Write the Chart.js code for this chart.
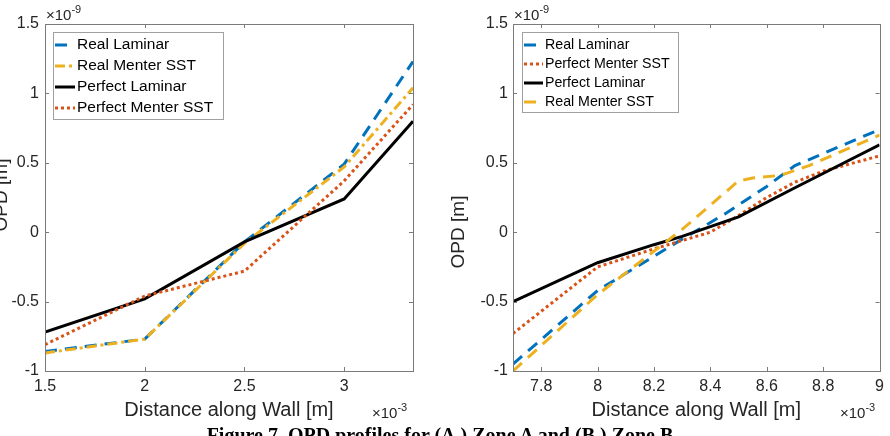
<!DOCTYPE html>
<html>
<head>
<meta charset="utf-8">
<script src="https://cdn.jsdelivr.net/npm/chart.js@4.4.1/dist/chart.umd.min.js"></script>
<style>
  html, body { margin: 0; padding: 0; background: #fff; overflow: hidden; }
  body { width: 890px; height: 436px; position: relative; }
  .panel { position: absolute; top: 0; width: 445px; height: 436px; }
  #caption {
    position: absolute; left: 0; width: 880px; top: 425px;
    text-align: center; white-space: nowrap; color: #000;
    font: bold 20px "Liberation Serif", "Times New Roman", serif; line-height: 20px;
  }
</style>
</head>
<body>
<div class="panel" style="left:0"><canvas id="zoneA"></canvas></div>
<div class="panel" style="left:445px"><canvas id="zoneB"></canvas></div>
<div id="caption">Figure 7. OPD profiles for (A.) Zone A and (B.) Zone B</div>
<script>
// x in units of 1e-3 m, OPD in units of 1e-9 m (multipliers are drawn as text)
const yTicks = [-1, -0.5, 0, 0.5, 1, 1.5];

// Zone A
const zoneA_xTicks = [1.5, 2, 2.5, 3];
const zoneA_x = [1.5, 2.0, 2.5, 3.0, 3.345];
const zoneA_realLaminar = [-0.86, -0.77, -0.07, 0.49, 1.23];
const zoneA_realMenter = [-0.87, -0.77, -0.08, 0.47, 1.04];
const zoneA_perfectLaminar = [-0.72, -0.48, -0.07, 0.24, 0.80];
const zoneA_perfectMenter = [-0.81, -0.46, -0.28, 0.37, 0.92];

// Zone B
const zoneB_xTicks = [7.8, 8, 8.2, 8.4, 8.6, 8.8, 9];
const zoneB_realLaminar_x = [7.7, 8.0, 8.3, 8.45, 8.6, 8.7, 9.0];
const zoneB_realLaminar = [-0.95, -0.42, -0.05, 0.13, 0.33, 0.48, 0.74];
const zoneB_perfectMenter_x = [7.7, 8.0, 8.2, 8.4, 8.5, 8.6, 8.7, 8.8, 9.0];
const zoneB_perfectMenter = [-0.73, -0.25, -0.12, 0.0, 0.12, 0.25, 0.36, 0.44, 0.55];
const zoneB_perfectLaminar_x = [7.7, 8.0, 8.2, 8.3, 8.5, 8.7, 9.0];
const zoneB_perfectLaminar = [-0.50, -0.22, -0.09, -0.03, 0.11, 0.32, 0.63];
const zoneB_realMenter_x = [7.7, 8.0, 8.3, 8.5, 8.55, 8.65, 8.75, 9.0];
const zoneB_realMenter = [-1.0, -0.45, 0.02, 0.37, 0.39, 0.41, 0.48, 0.70];

const BLUE = '#0072BD', RED = '#D95319', YELLOW = '#EDB120', BLACK = '#000000';
const FONT = '"Liberation Sans", Arial, sans-serif';
const TXT = '#262626';

function pts(xs, ys) {
  return xs.map((x, i) => ({ x: x, y: ys[i] }));
}

function series(label, xs, ys, color, dash, order) {
  return {
    label: label,
    data: pts(xs, ys),
    borderColor: color,
    backgroundColor: color,
    borderWidth: 3,
    borderDash: dash,
    borderCapStyle: 'butt',
    pointRadius: 0,
    tension: 0,
    order: order
  };
}

// box, inward ticks, multipliers and y label
const frame = {
  id: 'frame',
  afterDatasetsDraw(chart, args, o) {
    const { ctx, chartArea: a, scales } = chart;
    ctx.save();
    ctx.strokeStyle = '#7a7a7a';
    ctx.lineWidth = 1;
    ctx.beginPath();
    scales.x.ticks.forEach(t => {
      const p = Math.round(scales.x.getPixelForValue(t.value)) + 0.5;
      ctx.moveTo(p, a.bottom); ctx.lineTo(p, a.bottom - 4);
      ctx.moveTo(p, a.top); ctx.lineTo(p, a.top + 4);
    });
    scales.y.ticks.forEach(t => {
      const p = Math.round(scales.y.getPixelForValue(t.value)) + 0.5;
      ctx.moveTo(a.left, p); ctx.lineTo(a.left + 4, p);
      ctx.moveTo(a.right, p); ctx.lineTo(a.right - 4, p);
    });
    ctx.stroke();
    ctx.strokeRect(Math.round(a.left) + 0.5, Math.round(a.top) + 0.5,
      Math.round(a.right - a.left), Math.round(a.bottom - a.top));

    ctx.fillStyle = TXT;
    const mult = (x, y, exp) => {
      ctx.textAlign = 'left';
      ctx.textBaseline = 'alphabetic';
      ctx.font = '15px ' + FONT;
      ctx.fillText('\u00d710', x, y);
      const w = ctx.measureText('\u00d710').width;
      ctx.font = '11px ' + FONT;
      ctx.fillText(exp, x + w, y - 7);
    };
    mult(o.topMult.x, o.topMult.y, '-9');
    mult(o.botMult.x, o.botMult.y, '-3');

    ctx.save();
    ctx.translate(o.yTitle.x, o.yTitle.y);
    ctx.rotate(-Math.PI / 2);
    ctx.textAlign = 'center';
    ctx.textBaseline = 'middle';
    ctx.font = '19px ' + FONT;
    ctx.fillText('OPD [m]', 0, 0);
    ctx.restore();
    ctx.restore();
  }
};

const boxLegend = {
  id: 'boxLegend',
  afterDraw(chart, args, o) {
    const ctx = chart.ctx;
    ctx.save();
    ctx.fillStyle = '#fff';
    ctx.fillRect(o.x, o.y, o.w, o.h);
    ctx.strokeStyle = '#a0a0a0';
    ctx.lineWidth = 1;
    ctx.strokeRect(o.x + 0.5, o.y + 0.5, o.w, o.h);
    ctx.font = o.size + 'px ' + FONT;
    ctx.textAlign = 'left';
    ctx.textBaseline = 'middle';
    chart.data.datasets.forEach((ds, i) => {
      const y = o.y + o.first + i * o.step;
      ctx.strokeStyle = ds.borderColor;
      ctx.lineWidth = ds.borderWidth;
      ctx.setLineDash(ds.borderDash || []);
      ctx.beginPath();
      ctx.moveTo(o.x + 2, y);
      ctx.lineTo(o.x + 2 + o.sample, y);
      ctx.stroke();
      ctx.setLineDash([]);
      ctx.fillStyle = '#000';
      ctx.fillText(ds.label, o.x + o.sample + 4, y);
    });
    ctx.restore();
  }
};

function makeChart(id, datasets, xMin, xMax, xTicks, lay) {
  return new Chart(document.getElementById(id), {
    type: 'line',
    data: { datasets: datasets },
    plugins: [frame, boxLegend],
    options: {
      responsive: true,
      maintainAspectRatio: false,
      animation: false,
      devicePixelRatio: 1,
      layout: { padding: { top: 24, right: lay.right, left: 0, bottom: 0 } },
      plugins: {
        legend: { display: false },
        tooltip: { enabled: false },
        frame: lay.frame,
        boxLegend: lay.legend
      },
      scales: {
        x: {
          type: 'linear',
          min: xMin,
          max: xMax,
          afterBuildTicks: s => { s.ticks = xTicks.map(v => ({ value: v })); },
          afterFit: s => { s.height = 65; },
          grid: { display: false, drawTicks: false },
          border: { display: false },
          ticks: {
            padding: 6,
            color: TXT,
            font: { family: FONT, size: 16 },
            maxRotation: 0,
            callback: v => String(Number(v.toFixed(2)))
          },
          title: {
            display: true,
            text: 'Distance along Wall [m]',
            color: TXT,
            font: { family: FONT, size: 20 },
            padding: { top: 0, bottom: 14 }
          }
        },
        y: {
          type: 'linear',
          min: -1,
          max: 1.5,
          afterBuildTicks: s => { s.ticks = yTicks.map(v => ({ value: v })); },
          afterFit: s => { s.width = lay.yWidth; },
          grid: { display: false, drawTicks: false },
          border: { display: false },
          ticks: {
            padding: lay.yPad,
            color: TXT,
            font: { family: FONT, size: 16 },
            callback: v => String(Number(v.toFixed(2)))
          }
        }
      }
    }
  });
}

makeChart('zoneA', [
  series('Real Laminar', zoneA_x, zoneA_realLaminar, BLUE, [12, 8], 3),
  series('Real Menter SST', zoneA_x, zoneA_realMenter, YELLOW, [10, 4, 3, 4], 2),
  series('Perfect Laminar', zoneA_x, zoneA_perfectLaminar, BLACK, [], 1),
  series('Perfect Menter SST', zoneA_x, zoneA_perfectMenter, RED, [3, 3], 0)
], 1.5, 3.345, zoneA_xTicks, {
  right: 32, yWidth: 45, yPad: 6,
  frame: { topMult: { x: 46, y: 20 }, botMult: { x: 372, y: 418 }, yTitle: { x: 1.5, y: 195 } },
  legend: { x: 53, y: 32, w: 170, h: 87, first: 13, step: 21, sample: 20, size: 15.5 }
});

makeChart('zoneB', [
  series('Real Laminar', zoneB_realLaminar_x, zoneB_realLaminar, BLUE, [12, 8], 3),
  series('Perfect Menter SST', zoneB_perfectMenter_x, zoneB_perfectMenter, RED, [3, 3], 2),
  series('Perfect Laminar', zoneB_perfectLaminar_x, zoneB_perfectLaminar, BLACK, [], 1),
  series('Real Menter SST', zoneB_realMenter_x, zoneB_realMenter, YELLOW, [12, 8], 0)
], 7.7, 9, zoneB_xTicks, {
  right: 8, yWidth: 68, yPad: 5,
  frame: { topMult: { x: 69, y: 20 }, botMult: { x: 395, y: 418 }, yTitle: { x: 13.5, y: 232 } },
  legend: { x: 77, y: 32, w: 156, h: 80, first: 13, step: 19, sample: 19, size: 14.2 }
});
</script>
</body>
</html>
